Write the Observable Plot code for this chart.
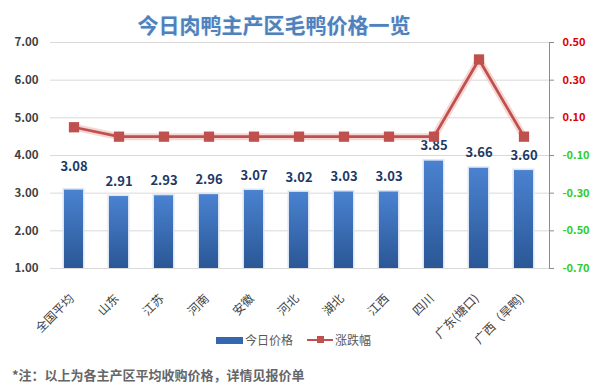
<!DOCTYPE html>
<html>
<head>
<meta charset="utf-8">
<script src="https://cdn.jsdelivr.net/npm/d3@7"></script>
<script src="https://cdn.jsdelivr.net/npm/@observablehq/plot@0.6"></script>
<style>
  body { margin: 0; background: #fff; font-family: "Noto Sans CJK SC", "Noto Sans", sans-serif; }
  #wrap { position: relative; width: 591px; height: 392px; overflow: hidden; background: #fff; }
  #title { position: absolute; left: 0; top: 9px; width: 548px; height: 30px; line-height: 30px; text-align: center;
           font-size: 21px; font-weight: bold; color: #4f81bd; text-shadow: 0 0 2px #d6e3f3; }
  #chart { padding-top: 30px; }
  #legend { position: absolute; top: 331px; left: 216px; height: 18px; line-height: 18px; font-size: 12px; color: #595959; display: flex; align-items: center; }
  #legend .sw { display: inline-block; width: 27px; height: 7px; background: #3567b0; margin-right: 2px; }
  #legend .ln { position: relative; display: inline-block; width: 26px; height: 2px; background: #c0504d; margin-left: 14px; margin-right: 2px; }
  #legend .ln i { position: absolute; left: 10px; top: -3px; width: 7px; height: 7px; background: #c0504d; }
  #note { position: absolute; left: 12px; top: 365px; font-size: 13px; font-weight: bold; color: #666; line-height: 20px; }
</style>
</head>
<body>
<div id="wrap">
  <div id="title">今日肉鸭主产区毛鸭价格一览</div>
  <div id="chart"></div>
  <div id="legend"><span class="sw"></span><span>今日价格</span><span class="ln"><i></i></span><span>涨跌幅</span></div>
  <div id="note">*注：以上为各主产区平均收购价格，详情见报价单</div>
</div>
<script>
const categories = ["全国平均", "山东", "江苏", "河南", "安徽", "河北", "湖北", "江西", "四川", "广东(塘口)", "广西（旱鸭)"];
const prices = [3.08, 2.91, 2.93, 2.96, 3.07, 3.02, 3.03, 3.03, 3.85, 3.66, 3.60];
const changes = [0.05, 0.00, 0.00, 0.00, 0.00, 0.00, 0.00, 0.00, 0.00, 0.41, 0.00];
const leftTicks = [1, 2, 3, 4, 5, 6, 7];
const rightTicks = [-0.7, -0.5, -0.3, -0.1, 0.1, 0.3, 0.5];

// map right-axis values (change) onto the left scale domain [1,7]
const rMin = -0.7, rMax = 0.5, lMin = 1, lMax = 7;
const toLeft = d => lMin + (d - rMin) * (lMax - lMin) / (rMax - rMin);

const data = categories.map((c, i) => ({c, p: prices[i], d: changes[i], i}));

const font = '"Noto Sans CJK SC", "Noto Sans", sans-serif';

const svg = Plot.plot({
  width: 591,
  height: 362,
  marginTop: 12,
  marginBottom: 124,
  marginLeft: 50,
  marginRight: 42,
  x: {domain: categories, paddingInner: 0.58, paddingOuter: 0.29, insetLeft: 0.5, insetRight: 3.5, label: null},
  y: {domain: [lMin, lMax], label: null},
  style: {fontFamily: font, fontSize: "11px", color: "#404040", background: "transparent", overflow: "visible"},
  marks: [
    Plot.gridY(leftTicks, {stroke: "#d9d9d9", strokeOpacity: 1}),
    Plot.axisY(leftTicks, {tickSize: 0, tickPadding: 12, tickFormat: d => d.toFixed(2), fontWeight: "bold", fontSize: 11.5, fill: "#404040", label: null}),
    Plot.frame({anchor: "right", stroke: "#8c8c8c"}),
    Plot.axisY(rightTicks.map(toLeft), {anchor: "right", tickSize: 4, tickFormat: () => "", stroke: "#8c8c8c", label: null}),
    Plot.text(rightTicks, {y: toLeft, frameAnchor: "right", dx: 13, textAnchor: "start", text: d => d.toFixed(2),
      fill: d => d > 0 ? "#e00000" : "#2ecc2e", fontWeight: "bold", fontSize: 11}),
    Plot.axisX({tickSize: 0, tickPadding: 28, tickRotate: -45, dx: -2, fontSize: 12, fill: "#404040", label: null}),
    Plot.barY(data, {x: "c", y1: lMin, y2: "p", fill: "#dbe5f3", insetLeft: -1.5, insetRight: -1.5, insetTop: -1.5}),
    Plot.barY(data, {x: "c", y1: lMin, y2: "p", fill: "url(#barGrad)"}),
    Plot.text(data.filter(d => d.i > 0), {x: "c", y: "p", text: d => d.p.toFixed(2), dy: -15, fill: "#203864", fontWeight: "bold", fontSize: 13}),
    Plot.text(data.filter(d => d.i === 0), {x: "c", y: "p", text: d => d.p.toFixed(2), dy: -23, fill: "#203864", fontWeight: "bold", fontSize: 13}),
    Plot.line(data, {x: "c", y: d => toLeft(d.d), stroke: "#f2c4c3", strokeWidth: 7, strokeOpacity: 0.7}),
    Plot.line(data, {x: "c", y: d => toLeft(d.d), stroke: "#c0504d", strokeWidth: 2.75}),
    Plot.dot(data, {x: "c", y: d => toLeft(d.d), symbol: "square", r: 5.8, fill: "#c0504d", stroke: "none"})
  ]
});

const ns = "http://www.w3.org/2000/svg";
const defs = document.createElementNS(ns, "defs");
defs.innerHTML = '<linearGradient id="barGrad" x1="0" y1="0" x2="0" y2="1">' +
  '<stop offset="0" stop-color="#4a82d0"/><stop offset="1" stop-color="#2a5796"/></linearGradient>';
svg.insertBefore(defs, svg.firstChild);
document.getElementById("chart").appendChild(svg);
</script>
</body>
</html>
